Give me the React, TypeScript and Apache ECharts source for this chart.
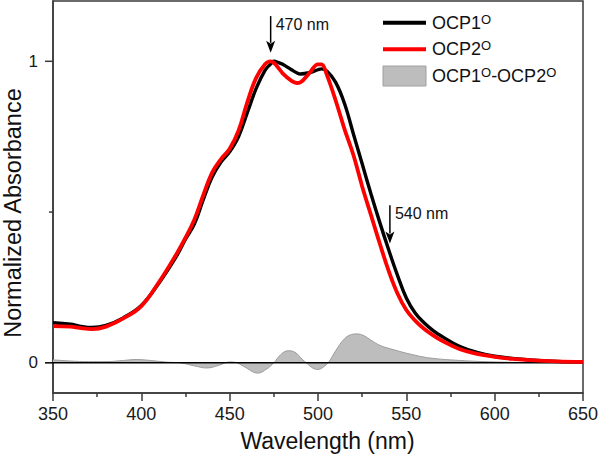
import React, { useEffect, useRef } from "react";
import * as echarts from "echarts";

const wavelengths = [350, 360, 365, 372, 380, 390, 400, 410, 420, 425, 430, 435, 440, 445, 450, 455, 460, 465, 470, 473, 475, 478, 480, 485, 488, 490, 495, 500, 502, 505, 510, 515, 520, 525, 530, 535, 540, 545, 550, 555, 560, 565, 570, 580, 590, 600, 610, 620, 635, 650];
const ocp1 = [0.133, 0.128, 0.122, 0.117, 0.124, 0.15, 0.19, 0.265, 0.355, 0.41, 0.46, 0.54, 0.615, 0.665, 0.7, 0.75, 0.83, 0.91, 0.97, 0.99, 1.0, 0.995, 0.99, 0.972, 0.962, 0.958, 0.962, 0.972, 0.975, 0.968, 0.93, 0.86, 0.76, 0.66, 0.56, 0.465, 0.375, 0.29, 0.215, 0.165, 0.133, 0.108, 0.088, 0.055, 0.035, 0.022, 0.015, 0.01, 0.005, 0.003];
const ocp2 = [0.122, 0.12, 0.116, 0.112, 0.12, 0.148, 0.188, 0.268, 0.362, 0.415, 0.475, 0.555, 0.63, 0.675, 0.71, 0.77, 0.865, 0.945, 0.99, 1.0, 0.995, 0.975, 0.96, 0.935, 0.928, 0.93, 0.96, 0.99, 0.99, 0.955, 0.87, 0.775, 0.69, 0.585, 0.49, 0.395, 0.305, 0.23, 0.175, 0.14, 0.113, 0.092, 0.074, 0.046, 0.03, 0.02, 0.013, 0.009, 0.005, 0.003];

const diffWavelengths = [350, 360, 370, 380, 390, 397, 405, 415, 422, 430, 437, 444, 450, 453, 458, 466, 471, 475, 479, 483, 487, 491, 494, 497, 500, 503, 506, 510, 515, 519, 522, 526, 530, 535, 540, 545, 550, 560, 565, 570, 580, 590, 600, 620, 650];
const diffValues = [0.01, 0.006, 0.004, 0.004, 0.008, 0.011, 0.008, 0.002, 0, -0.01, -0.017, -0.008, 0.003, 0.002, -0.012, -0.034, -0.02, 0, 0.028, 0.04, 0.035, 0.012, -0.003, -0.017, -0.022, -0.014, 0.002, 0.04, 0.08, 0.094, 0.096, 0.09, 0.075, 0.058, 0.048, 0.04, 0.032, 0.019, 0.015, 0.012, 0.008, 0.005, 0.003, 0.001, 0];

const xTicks = [350, 400, 450, 500, 550, 600, 650];
const yMajorTicks = [0, 1];
const yMinorTicks = [0.5];

const annotations = [
  { label: "470 nm", x: 473.2, top: 1.15, tip: 1.028 },
  { label: "540 nm", x: 540.7, top: 0.523, tip: 0.396 },
];

const FONT = "'Liberation Sans', Arial, Helvetica, sans-serif";

const pair = (xs: number[], ys: number[]) => xs.map((x, i) => [x, ys[i]]);
const near = (v: number, t: number) => Math.abs(v - t) < 1e-6;

export default function App() {
  const ref = useRef<HTMLDivElement>(null);

  useEffect(() => {
    if (!ref.current) return;
    const chart = echarts.init(ref.current, undefined, { renderer: "svg" });
    const axisColor = "#3a3a3a";
    const option: any = {
      animation: false,
      backgroundColor: "#ffffff",
      grid: {
        left: 53,
        right: 17,
        top: 1,
        bottom: 66,
        show: true,
        borderColor: axisColor,
        borderWidth: 1.5,
        containLabel: false,
        outerBoundsMode: "none",
      },
      xAxis: {
        type: "value",
        min: xTicks[0],
        max: xTicks[xTicks.length - 1],
        interval: 50,
        name: "Wavelength (nm)",
        nameLocation: "middle",
        nameGap: 36,
        nameMoveOverlap: false,
        nameTextStyle: { fontFamily: FONT, fontSize: 23, color: "#111", padding: [0, 0, 0, 19] },
        axisLine: { show: true, onZero: false, lineStyle: { color: axisColor, width: 1.5 } },
        axisTick: { show: true, length: 8, lineStyle: { color: axisColor, width: 1.5 } },
        minorTick: { show: true, splitNumber: 2, length: 4, lineStyle: { color: axisColor, width: 1.5 } },
        axisLabel: { fontFamily: FONT, fontSize: 18, color: "#1a1a1a", margin: 12 },
        splitLine: { show: false },
        minorSplitLine: { show: false },
      },
      yAxis: {
        type: "value",
        min: -0.1,
        max: 1.2,
        interval: 0.1,
        name: "Normalized Absorbance",
        nameLocation: "middle",
        nameGap: 28,
        nameMoveOverlap: false,
        nameTextStyle: { fontFamily: FONT, fontSize: 23.5, color: "#111", padding: [0, 32, 0, 0] },
        axisLine: { show: true, onZero: false, lineStyle: { color: axisColor, width: 1.5 } },
        axisTick: { show: false },
        axisLabel: {
          fontFamily: FONT,
          fontSize: 17,
          color: "#1a1a1a",
          margin: 15,
          formatter: (v: number) => (yMajorTicks.some((t) => near(v, t)) ? String(Math.round(v)) : ""),
        },
        splitLine: { show: false },
      },
      series: [
        {
          name: "OCP1O-OCP2O",
          type: "line",
          data: pair(diffWavelengths, diffValues),
          smooth: 0.4,
          symbol: "none",
          z: 1,
          lineStyle: { color: "#9c9c9c", width: 1 },
          areaStyle: { color: "#bdbdbd", opacity: 1 },
          silent: true,
        },
        {
          name: "zero",
          type: "line",
          data: [[xTicks[0], 0], [xTicks[xTicks.length - 1], 0]],
          symbol: "none",
          z: 2,
          lineStyle: { color: "#000", width: 1.5 },
          silent: true,
        },
        {
          name: "OCP1O",
          type: "line",
          data: pair(wavelengths, ocp1),
          smooth: 0.4,
          symbol: "none",
          z: 3,
          lineStyle: { color: "#000000", width: 3.4 },
        },
        {
          name: "OCP2O",
          type: "line",
          data: pair(wavelengths, ocp2),
          smooth: 0.4,
          symbol: "none",
          z: 4,
          lineStyle: { color: "#ff0000", width: 3.8 },
        },
      ],
    };
    chart.setOption(option);

    const graphics: any[] = [];

    const tickAt = (v: number, len: number) => {
      const p = chart.convertToPixel({ gridIndex: 0 }, [xTicks[0], v]) as number[];
      graphics.push({
        type: "line",
        shape: { x1: p[0] - len, y1: p[1], x2: p[0], y2: p[1] },
        style: { stroke: v === 0 ? "#000" : axisColor, lineWidth: 1.5 },
        z: 10,
      });
    };
    yMajorTicks.forEach((v) => tickAt(v, 8));
    yMinorTicks.forEach((v) => tickAt(v, 4));

    annotations.forEach((a) => {
      const pTop = chart.convertToPixel({ gridIndex: 0 }, [a.x, a.top]) as number[];
      const pTip = chart.convertToPixel({ gridIndex: 0 }, [a.x, a.tip]) as number[];
      const headH = 12;
      graphics.push({
        type: "line",
        shape: { x1: pTop[0], y1: pTop[1], x2: pTip[0], y2: pTip[1] - headH + 2 },
        style: { stroke: "#000", lineWidth: 1.5 },
        z: 10,
      });
      graphics.push({
        type: "polygon",
        shape: {
          points: [
            [pTip[0] - 4.5, pTip[1] - headH],
            [pTip[0], pTip[1] - headH + 3],
            [pTip[0] + 4.5, pTip[1] - headH],
            [pTip[0], pTip[1]],
          ],
        },
        style: { fill: "#000" },
        z: 10,
      });
      graphics.push({
        type: "text",
        x: pTop[0] + 5,
        y: pTop[1] + 8,
        style: { text: a.label, font: `16px ${FONT}`, fill: "#111", verticalAlign: "middle", align: "left" },
        z: 10,
      });
    });

    const legendRows = [
      { kind: "line", color: "#000000", text: "{n|OCP1}{s|O}", y: 22.7 },
      { kind: "line", color: "#ff0000", text: "{n|OCP2}{s|O}", y: 49.3 },
      { kind: "rect", color: "#bdbdbd", text: "{n|OCP1}{s|O}{n|-OCP2}{s|O}", y: 76 },
    ];
    legendRows.forEach((r) => {
      if (r.kind === "line") {
        graphics.push({
          type: "line",
          shape: { x1: 383, y1: r.y, x2: 426, y2: r.y },
          style: { stroke: r.color, lineWidth: 4 },
          z: 10,
        });
      } else {
        graphics.push({
          type: "rect",
          shape: { x: 383, y: r.y - 10, width: 43, height: 20 },
          style: { fill: r.color, stroke: "#a0a0a0", lineWidth: 1 },
          z: 10,
        });
      }
      graphics.push({
        type: "text",
        x: 432,
        y: r.y,
        style: {
          text: r.text,
          verticalAlign: "middle",
          align: "left",
          fill: "#111",
          rich: {
            n: { fontFamily: FONT, fontSize: 18, fill: "#111", lineHeight: 20 },
            s: { fontFamily: FONT, fontSize: 13, fill: "#111", verticalAlign: "top", lineHeight: 14 },
          },
        },
        z: 10,
      });
    });

    chart.setOption({ graphic: graphics });

    return () => {
      chart.dispose();
    };
  }, []);

  return (
    <div
      ref={ref}
      style={{ position: "fixed", left: 0, top: 0, width: 600, height: 459, background: "#fff" }}
    />
  );
}
